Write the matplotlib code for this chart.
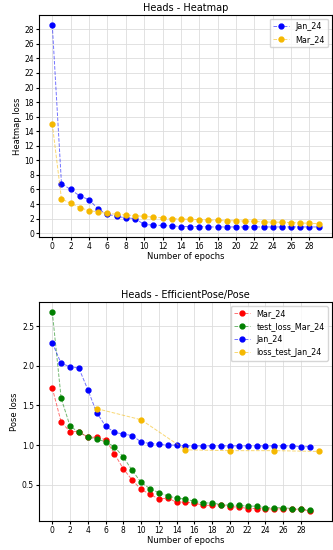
import matplotlib
matplotlib.use("Agg")
import matplotlib.pyplot as plt
from matplotlib.colors import to_rgba

# heatmap head loss per epoch
epochs = list(range(30))
heat_jan = [28.6, 6.8, 6.0, 5.1, 4.6, 3.3, 2.6, 2.3, 2.1, 2.0,
            1.2, 1.1, 1.05, 1.0, 0.9, 0.9, 0.9, 0.85, 0.85, 0.85,
            0.85, 0.85, 0.85, 0.85, 0.85, 0.85, 0.85, 0.85, 0.85, 0.85]
heat_mar = [15.0, 4.7, 4.1, 3.5, 3.1, 2.9, 2.7, 2.6, 2.5, 2.4,
            2.3, 2.2, 2.1, 2.0, 1.95, 1.9, 1.85, 1.8, 1.75, 1.7,
            1.7, 1.65, 1.6, 1.55, 1.5, 1.5, 1.45, 1.4, 1.35, 1.3]

# pose head loss per epoch
pose_mar = [1.72, 1.29, 1.17, 1.17, 1.10, 1.10, 1.07, 0.89, 0.70, 0.56,
            0.44, 0.38, 0.32, 0.33, 0.28, 0.28, 0.27, 0.24, 0.24, 0.25,
            0.22, 0.22, 0.20, 0.20, 0.20, 0.19, 0.20, 0.19, 0.19, 0.17]
pose_test_mar = [2.68, 1.59, 1.24, 1.16, 1.10, 1.08, 1.04, 0.98, 0.85, 0.68,
                 0.53, 0.45, 0.40, 0.36, 0.33, 0.32, 0.29, 0.27, 0.27, 0.25,
                 0.24, 0.24, 0.23, 0.23, 0.21, 0.21, 0.21, 0.20, 0.19, 0.18]
pose_jan = [2.29, 2.03, 1.99, 1.97, 1.70, 1.41, 1.24, 1.16, 1.14, 1.12,
            1.04, 1.02, 1.01, 1.00, 1.00, 0.99, 0.99, 0.99, 0.99, 0.99,
            0.99, 0.99, 0.99, 0.99, 0.99, 0.99, 0.99, 0.99, 0.98, 0.98]
test_epochs_jan = [5, 10, 15, 20, 25, 30]
pose_test_jan = [1.46, 1.32, 0.94, 0.93, 0.93, 0.92]

xticks = list(range(0, 30, 2))
gold = '#f5b800'


def line(ax, x, y, c, label):
    # faint dashed line, solid markers
    ax.plot(x, y, color=to_rgba(c, 0.55), linestyle='--', linewidth=0.7,
            marker='o', markersize=3.5, markerfacecolor=c, markeredgecolor=c,
            label=label)


fig = plt.figure(figsize=(3.33, 5.5), dpi=100)

ax1 = fig.add_axes([0.117, 0.569, 0.88, 0.404])
line(ax1, epochs, heat_jan, 'blue', 'Jan_24')
line(ax1, epochs, heat_mar, gold, 'Mar_24')
ax1.set_title('Heads - Heatmap', fontsize=7, pad=3)
ax1.set_xlabel('Number of epochs', fontsize=6, labelpad=1)
ax1.set_ylabel('Heatmap loss', fontsize=6, labelpad=2)
ax1.set_xticks(xticks)
ax1.set_yticks(range(0, 30, 2))
ax1.tick_params(labelsize=5.5, length=2, pad=1.5)
ax1.grid(True, color='#dddddd', linewidth=0.6)
ax1.legend(loc='upper right', fontsize=5.8)

ax2 = fig.add_axes([0.117, 0.053, 0.88, 0.398])
line(ax2, epochs, pose_mar, 'red', 'Mar_24')
line(ax2, epochs, pose_test_mar, 'green', 'test_loss_Mar_24')
line(ax2, epochs, pose_jan, 'blue', 'Jan_24')
line(ax2, test_epochs_jan, pose_test_jan, gold, 'loss_test_Jan_24')
ax2.set_title('Heads - EfficientPose/Pose', fontsize=7, pad=3)
ax2.set_xlabel('Number of epochs', fontsize=6, labelpad=1)
ax2.set_ylabel('Pose loss', fontsize=6, labelpad=2)
ax2.set_xticks(xticks)
ax2.tick_params(labelsize=5.5, length=2, pad=1.5)
ax2.grid(True, color='#dddddd', linewidth=0.6)
ax2.legend(loc='upper right', fontsize=5.8)

fig.savefig('out.png', dpi=100)
plt.close(fig)
